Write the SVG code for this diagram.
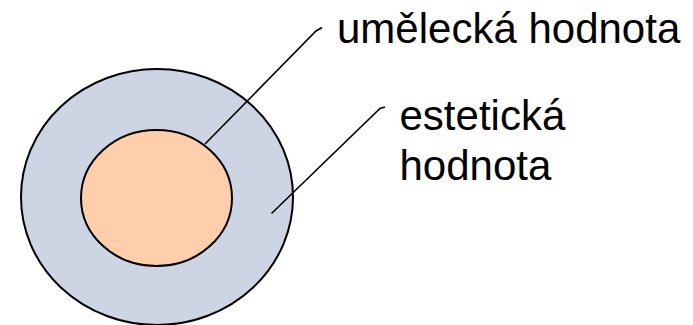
<svg xmlns="http://www.w3.org/2000/svg" width="693" height="325" viewBox="0 0 693 325">
<style>
.shape{stroke:#000;stroke-width:2}
.lead{fill:none;stroke:#000;stroke-width:1.6}
.lbl{font-family:"Liberation Sans",Arial,sans-serif;font-size:42px;fill:#000}
</style>
<rect width="693" height="325" fill="#fff"/>
<g id="outer">
<ellipse class="shape" cx="157" cy="197" rx="136" ry="128" fill="#CDD5E4"/>
</g>
<g id="inner">
<ellipse class="shape" cx="156.5" cy="198" rx="75.5" ry="68" fill="#FFCFAB"/>
</g>
<g id="connectors">
<polyline class="lead" points="205,144 316,31 322,27.5"/>
<polyline class="lead" points="271.5,213.5 380,108.5 385,107"/>
</g>
<g id="label-umelecka">
<text class="lbl" x="337" y="42.5">umělecká hodnota</text>
</g>
<g id="label-estet">
<text class="lbl" x="399.5" y="129.5">estetická</text>
<text class="lbl" x="399.5" y="180">hodnota</text>
</g>
</svg>
